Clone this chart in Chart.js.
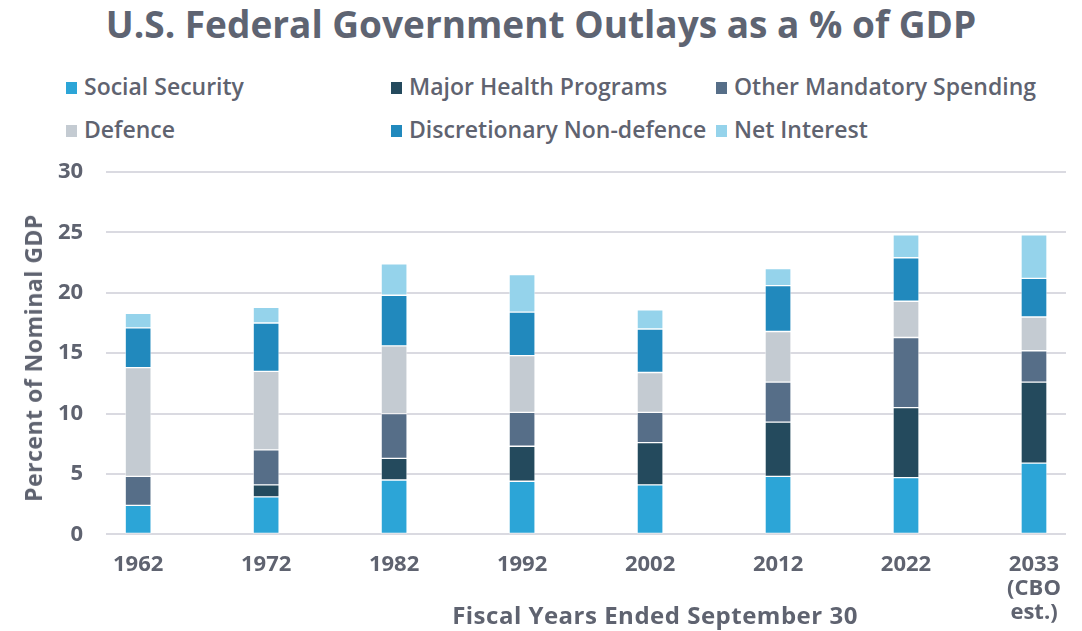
<!DOCTYPE html>
<html>
<head>
<meta charset="utf-8">
<script src="https://cdn.jsdelivr.net/npm/chart.js@4.4.0/dist/chart.umd.min.js"></script>
<style>
  body { margin: 0; background: #fff; font-family: "Open Sans", sans-serif; color: #5f6370; }
  #wrap { position: relative; width: 1082px; height: 631px; overflow: hidden; }
  #title { position: absolute; top: -1px; left: 0; width: 1082px; text-align: center;
           font-size: 37px; font-weight: 700; line-height: 50px; color: #5e6472; }
  .leg { position: absolute; font-size: 23px; font-weight: 600; line-height: 26px; white-space: nowrap; }
  .leg i { display: inline-block; width: 11px; height: 12px; margin-right: 7px; vertical-align: 1px; }
  #xtitle { position: absolute; left: 405px; width: 500px; top: 601px; text-align: center;
            font-size: 24px; font-weight: 700; line-height: 28px; letter-spacing: 0.5px; }
  #ytitle { position: absolute; left: 33px; top: 358px; transform: translate(-50%, -50%) rotate(-90deg);
            font-size: 23px; font-weight: 700; line-height: 26px; white-space: nowrap; letter-spacing: 0.5px; }
  canvas { position: absolute; left: 0; top: 0; }
</style>
</head>
<body>
<div id="wrap">
  <div id="title">U.S. Federal Government Outlays as a % of GDP</div>
  <div id="legend"></div>
  <canvas id="chart" width="1082" height="635"></canvas>
  <div id="ytitle">Percent of Nominal GDP</div>
  <div id="xtitle">Fiscal Years Ended September 30</div>
</div>
<script>
// ---- data (percent of nominal GDP) ----
const years = ["1962", "1972", "1982", "1992", "2002", "2012", "2022", "2033"];
const xTickLabels = [["1962"], ["1972"], ["1982"], ["1992"], ["2002"], ["2012"], ["2022"], ["2033", "(CBO", "est.)"]];
const yTicks = [0, 5, 10, 15, 20, 25, 30];

const socialSecurity = [2.4, 3.1, 4.5, 4.4, 4.1, 4.8, 4.7, 5.9];
const majorHealth    = [0.0, 1.0, 1.8, 2.9, 3.5, 4.5, 5.8, 6.7];
const otherMandatory = [2.4, 2.9, 3.7, 2.8, 2.5, 3.3, 5.8, 2.6];
const defence        = [9.0, 6.5, 5.6, 4.7, 3.3, 4.2, 3.0, 2.8];
const discretionary  = [3.3, 4.0, 4.2, 3.6, 3.6, 3.8, 3.6, 3.2];
const netInterest    = [1.2, 1.3, 2.6, 3.1, 1.6, 1.4, 1.9, 3.6];

const seriesNames = ["Social Security", "Major Health Programs", "Other Mandatory Spending",
                     "Defence", "Discretionary Non-defence", "Net Interest"];
const seriesValues = [socialSecurity, majorHealth, otherMandatory, defence, discretionary, netInterest];
const seriesColors = ["#2ca5d7", "#244a5d", "#566e88", "#c4cbd2", "#2189bd", "#95d3eb"];

const textColor = "#5f6370";
Chart.defaults.font.family = "'Open Sans', sans-serif";
Chart.defaults.color = textColor;

// ======================================================
// chart
// ======================================================
const datasets = seriesNames.map((name, i) => ({
  label: name,
  data: seriesValues[i].map((v, j) => ({ x: j, y: v })),
  backgroundColor: seriesColors[i],
  borderColor: "rgba(255,255,255,0.45)",
  borderWidth: 1,
  borderSkipped: false,
  barThickness: 26,
}));

const chart = new Chart(document.getElementById("chart"), {
  type: "bar",
  data: { datasets },
  options: {
    responsive: false,
    animation: false,
    layout: { padding: { top: 172, left: 35, right: 16, bottom: 0 } },
    plugins: { legend: { display: false }, tooltip: { enabled: false } },
    scales: {
      x: {
        type: "linear",
        stacked: true,
        offset: false,
        min: -0.25,
        max: 7.25,
        afterBuildTicks: (axis) => { axis.ticks = years.map((_, i) => ({ value: i })); },
        grid: { display: false },
        border: { display: false },
        ticks: {
          padding: 10,
          maxRotation: 0,
          font: { size: 22, weight: "bold", lineHeight: 1.1 },
          callback: (v) => xTickLabels[v],
        },
      },
      y: {
        stacked: true,
        min: 0,
        max: 30,
        afterBuildTicks: (axis) => { axis.ticks = yTicks.map((v) => ({ value: v })); },
        grid: { color: "#dadae1", lineWidth: 2, drawTicks: false },
        border: { display: false },
        ticks: { padding: 23, font: { size: 22, weight: "bold" } },
      },
    },
  },
});

// ======================================================
// legend (html, grid like the original)
// ======================================================
const legCols = [66, 391, 716];
const legRows = [73, 116];
document.getElementById("legend").innerHTML = chart.data.datasets
  .map((ds, i) => {
    const left = legCols[i % 3];
    const top = legRows[Math.floor(i / 3)];
    return `<div class="leg" style="left:${left}px;top:${top}px"><i style="background:${ds.backgroundColor}"></i>${ds.label}</div>`;
  })
  .join("");
</script>
</body>
</html>
